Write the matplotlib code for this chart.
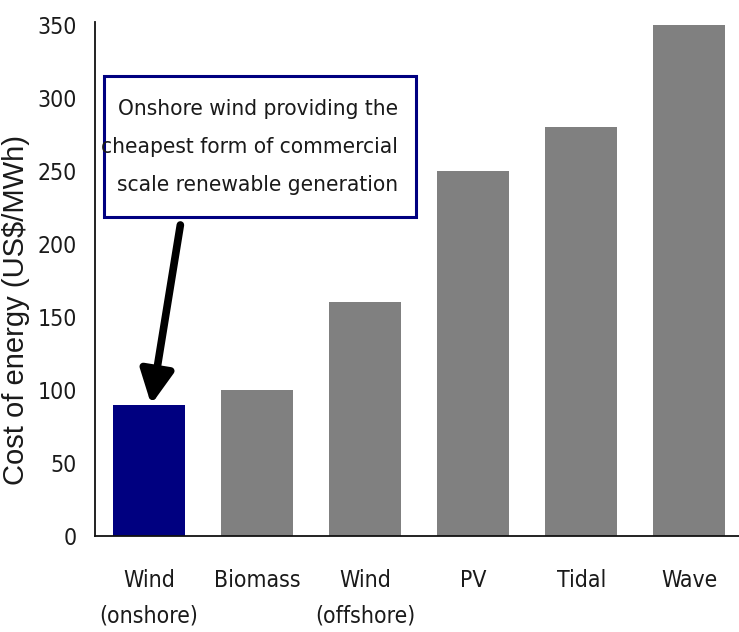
import matplotlib
matplotlib.use("Agg")
import matplotlib.pyplot as plt
from matplotlib.patches import Rectangle

categories = ["Wind\n(onshore)", "Biomass", "Wind\n(offshore)", "PV", "Tidal", "Wave"]
costs = [90, 100, 160, 250, 280, 350]
bar_colors = ["#000080", "#808080", "#808080", "#808080", "#808080", "#808080"]
yticks = [0, 50, 100, 150, 200, 250, 300, 350]
ylabel = "Cost of energy (US$/MWh)"
note = "Onshore wind providing the\ncheapest form of commercial\nscale renewable generation"

plt.rcParams["font.family"] = ["DejaVu Sans"]
plt.rcParams["font.stretch"] = "condensed"

fig = plt.figure(figsize=(7.39, 6.32), dpi=100)
ax = fig.add_axes([95/739, 1 - 536/632, 644/739, 514/632])

x = list(range(len(categories)))
ax.bar(x, costs, width=0.67, color=bar_colors, zorder=2)

ax.set_xlim(-0.5, 5.46)
ax.set_ylim(0, 352)
ax.set_yticks(yticks)
ax.set_yticklabels([str(v) for v in yticks], fontsize=16.5, color="#1a1a1a")
ax.set_xticks(x)
ax.set_xticklabels(categories, fontsize=16.5, color="#1a1a1a", linespacing=1.65)
ax.tick_params(axis="y", length=0, pad=13)
ax.tick_params(axis="x", length=0, pad=24)
for s in ["top", "right"]:
    ax.spines[s].set_visible(False)
for s in ["left", "bottom"]:
    ax.spines[s].set_linewidth(1.3)
    ax.spines[s].set_color("#111111")

ax.set_ylabel(ylabel, fontsize=21, color="#1a1a1a", family="Liberation Sans",
              fontstretch="normal")
ax.yaxis.set_label_coords(-0.101, 0.44)

# annotation box
box = Rectangle((0.014, 0.6206), 0.484, 0.2744, transform=ax.transAxes,
                fill=True, facecolor="white", edgecolor="#000080", linewidth=2.2, zorder=3)
ax.add_patch(box)
ax.text(0.4705, 0.757, note, transform=ax.transAxes, ha="right", va="center",
        fontsize=16.2, linespacing=2.1, color="#1a1a1a", zorder=4)

ax.annotate("", xy=(x[0] + 0.02, costs[0]), xytext=(0.29, 213),
            arrowprops=dict(arrowstyle="-|>,head_length=2.0,head_width=1.0",
                            color="black", lw=5.5, shrinkA=0, shrinkB=0),
            zorder=5)

fig.savefig("out.png", dpi=100)
